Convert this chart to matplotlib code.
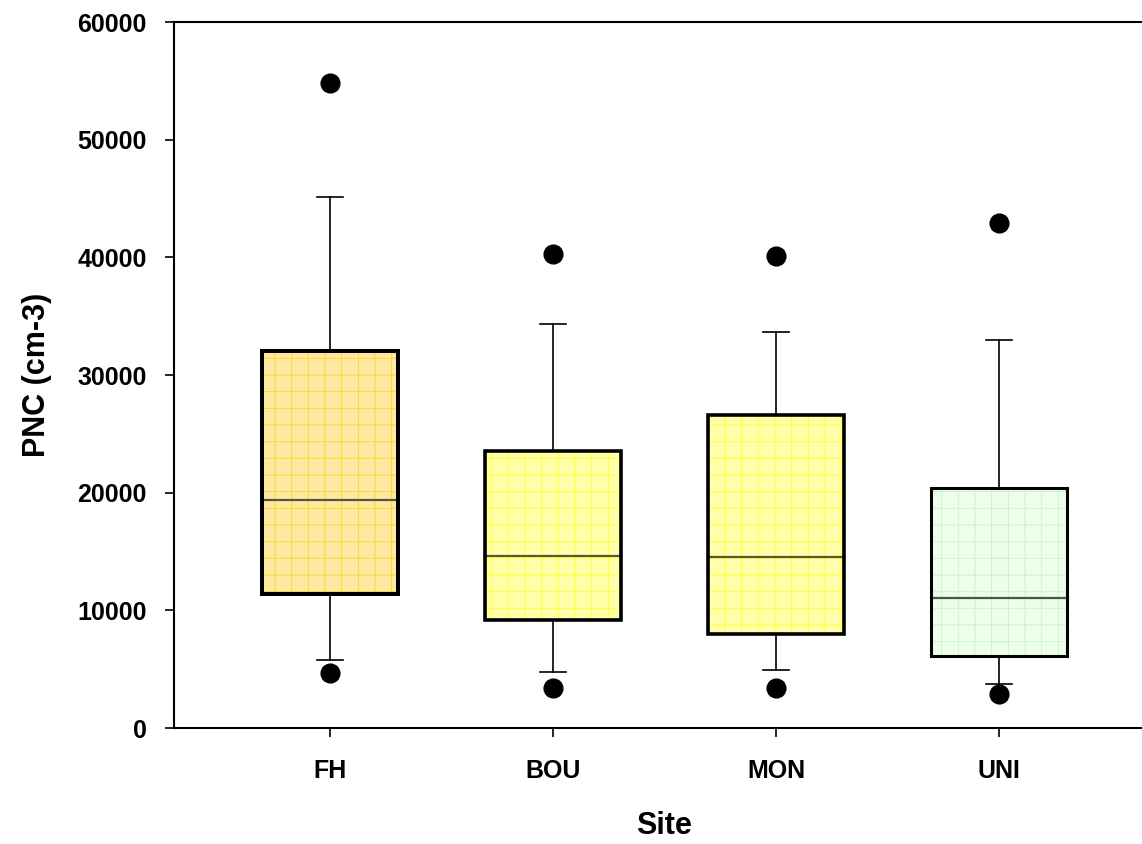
import matplotlib.pyplot as plt
from matplotlib.patches import Rectangle

plt.rcParams['font.family'] = ['Liberation Sans', 'DejaVu Sans']
plt.rcParams['font.weight'] = 'bold'
plt.rcParams['hatch.linewidth'] = 0.7

sites = ["FH", "BOU", "MON", "UNI"]
q1 = [11400, 9200, 8000, 6150]
med = [19400, 14600, 14500, 11050]
q3 = [32050, 23550, 26600, 20400]
whislo = [5800, 4750, 4950, 3750]
whishi = [45100, 34300, 33650, 33000]
fliers = [[54800, 4650], [40250, 3400], [40150, 3400], [42900, 2900]]

fills = ['#FFE9A2', '#FFFFAA', '#FFFFAA', '#EBFFEB']
hatch_cols = ['#FFD633', '#FFFF33', '#FFFF33', '#CCF2CC']
edge_w = [2.9, 2.6, 2.6, 2.2]

stats = []
for i, s in enumerate(sites):
    stats.append(dict(label=s, q1=q1[i], med=med[i], q3=q3[i],
                      whislo=whislo[i], whishi=whishi[i], fliers=fliers[i]))

fig = plt.figure(figsize=(11.42, 8.44), dpi=100)
ax = fig.add_axes([0.1524, 0.1374, 0.859, 0.8365])

pos = [1, 2, 3, 4]
width = 0.61
bp = ax.bxp(stats, positions=pos, widths=width, patch_artist=True,
            showcaps=True,
            whiskerprops=dict(color='black', linewidth=1.2),
            capprops=dict(color='black', linewidth=1.2),
            medianprops=dict(color='#55533a', linewidth=1.6),
            flierprops=dict(marker='o', markerfacecolor='black',
                            markeredgecolor='black', markersize=13.5))

for i, box in enumerate(bp['boxes']):
    box.set_facecolor(fills[i])
    box.set_edgecolor('none')
    box.set_zorder(1)
    # grid pattern inside box
    ax.add_patch(Rectangle((pos[i] - width / 2, q1[i]), width, q3[i] - q1[i],
                           facecolor='none', edgecolor=hatch_cols[i],
                           hatch='+', linewidth=0, zorder=1.5))
    ax.add_patch(Rectangle((pos[i] - width / 2, q1[i]), width, q3[i] - q1[i],
                           facecolor='none', edgecolor='black',
                           linewidth=edge_w[i], zorder=3))
for c in bp['caps']:
    c.set_xdata([c.get_xdata()[0] + 0.21, c.get_xdata()[1] - 0.21])
for m in bp['medians']:
    m.set_zorder(2)

ax.set_xlim(0.3, 4.7)
ax.set_ylim(0, 60000)
ax.set_yticks(range(0, 60001, 10000))
ax.set_xticks(pos)
ax.set_xticklabels(sites)

for side in ['left', 'bottom', 'top', 'right']:
    ax.spines[side].set_linewidth(1.5)
ax.tick_params(axis='both', direction='out', length=6.5, width=1.2,
               labelsize=18)
ax.tick_params(axis='y', pad=13)
ax.tick_params(axis='x', pad=16)
ax.tick_params(top=False, right=False)

ax.set_xlabel("Site", fontsize=22, fontweight='bold', labelpad=20)
ax.set_ylabel("PNC (cm-3)", fontsize=22, fontweight='bold', labelpad=18)

plt.savefig("out.png", dpi=100)
plt.close()
